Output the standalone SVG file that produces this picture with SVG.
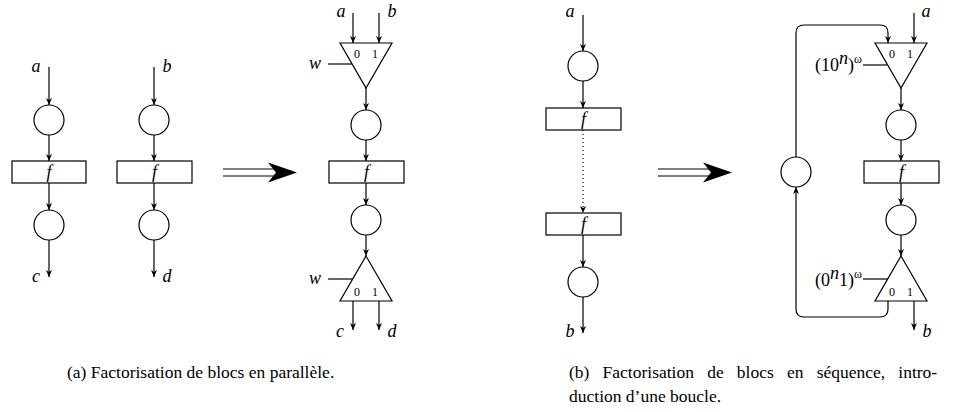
<svg xmlns="http://www.w3.org/2000/svg" width="967" height="412" viewBox="0 0 967 412">
<defs>
<marker id="ah" viewBox="-8 -4 9 8" refX="0" refY="0" markerWidth="9" markerHeight="8" orient="auto" markerUnits="userSpaceOnUse">
<path d="M0,0 L-7,-3 L-5,0 L-7,3 Z" fill="#000"/>
</marker>
<style>
.s{fill:none;stroke:#000;stroke-width:1.2}
.n{fill:#fff;stroke:#000;stroke-width:1.2}
.c{fill:none;stroke:#000;stroke-width:1.2;marker-end:url(#ah)}
.d{fill:none;stroke:#000;stroke-width:1.2;stroke-dasharray:1 3;marker-end:url(#ah)}
text{font-family:'Liberation Serif','Tinos','DejaVu Serif',serif;fill:#000}
.m{font-style:italic;font-size:18px}
.r{font-size:18px}
.t{font-size:12px}
.cap{font-size:17.5px}
.big{fill:#000}
</style>
</defs>

<g id="connectors">
<line class="c" x1="49" y1="67" x2="49" y2="105"/>
<line class="c" x1="49" y1="135" x2="49" y2="161"/>
<line class="c" x1="49" y1="183" x2="49" y2="210"/>
<line class="c" x1="49" y1="240" x2="49" y2="277"/>
<line class="c" x1="154" y1="67" x2="154" y2="105"/>
<line class="c" x1="154" y1="135" x2="154" y2="161"/>
<line class="c" x1="154" y1="183" x2="154" y2="210"/>
<line class="c" x1="154" y1="240" x2="154" y2="277"/>
<line class="c" x1="353" y1="13" x2="353" y2="43"/>
<line class="c" x1="379" y1="13" x2="379" y2="43"/>
<line class="s" x1="328" y1="64" x2="352" y2="64"/>
<line class="c" x1="366" y1="88" x2="366" y2="110"/>
<line class="c" x1="366" y1="140" x2="366" y2="161"/>
<line class="c" x1="366" y1="183" x2="366" y2="205"/>
<line class="c" x1="366" y1="235" x2="366" y2="256"/>
<line class="s" x1="328" y1="279" x2="353" y2="279"/>
<line class="c" x1="353" y1="301" x2="353" y2="330"/>
<line class="c" x1="379" y1="301" x2="379" y2="330"/>
<line class="c" x1="583" y1="15" x2="583" y2="51"/>
<line class="c" x1="583" y1="81" x2="583" y2="108"/>
<line class="d" x1="583" y1="130" x2="583" y2="213"/>
<line class="c" x1="583" y1="235" x2="583" y2="267"/>
<line class="c" x1="583" y1="297" x2="583" y2="333"/>
<line class="c" x1="914" y1="13" x2="914" y2="43"/>
<path class="c" d="M796,157 L796,33 Q796,25 804,25 L880,25 Q888,25 888,33 L888,43"/>
<line class="s" x1="863" y1="65" x2="887" y2="65"/>
<line class="c" x1="901" y1="88" x2="901" y2="110"/>
<line class="c" x1="901" y1="140" x2="901" y2="161"/>
<line class="c" x1="901" y1="183" x2="901" y2="205"/>
<line class="c" x1="901" y1="235" x2="901" y2="256"/>
<line class="s" x1="863" y1="279" x2="888" y2="279"/>
<path class="c" d="M888,301 L888,309 Q888,317 880,317 L804,317 Q796,317 796,309 L796,187"/>
<line class="c" x1="914" y1="301" x2="914" y2="330"/>
</g>

<g id="la"><text class="m" x="36" y="72" text-anchor="middle">a</text></g>
<g id="n_a1"><circle class="n" cx="49" cy="120" r="15"/></g>
<g id="f_a1"><rect class="n" x="12" y="161" width="74" height="22"/><text class="m" x="49" y="178" text-anchor="middle">f</text></g>
<g id="n_a2"><circle class="n" cx="49" cy="225" r="15"/></g>
<g id="lc"><text class="m" x="36" y="282" text-anchor="middle">c</text></g>

<g id="lb"><text class="m" x="167" y="72" text-anchor="middle">b</text></g>
<g id="n_b1"><circle class="n" cx="154" cy="120" r="15"/></g>
<g id="f_b1"><rect class="n" x="117" y="161" width="75" height="22"/><text class="m" x="154.5" y="178" text-anchor="middle">f</text></g>
<g id="n_b2"><circle class="n" cx="154" cy="225" r="15"/></g>
<g id="ld"><text class="m" x="167" y="282" text-anchor="middle">d</text></g>

<g id="arrow1">
<line class="s" x1="223" y1="169" x2="274" y2="169"/>
<line class="s" x1="223" y1="176" x2="274" y2="176"/>
<path class="big" d="M297,172.5 L268,162.5 L276,172.5 L268,182.5 Z"/>
</g>

<g id="la2"><text class="m" x="341" y="17" text-anchor="middle">a</text></g>
<g id="lb2"><text class="m" x="392" y="17" text-anchor="middle">b</text></g>
<g id="mux1"><path class="n" d="M340,43 L392,43 L366,88 Z"/><text class="t" x="357" y="58" text-anchor="middle">0</text><text class="t" x="375" y="58" text-anchor="middle">1</text></g>
<g id="lw1"><text class="m" x="315" y="69" text-anchor="middle">w</text></g>
<g id="n_m1"><circle class="n" cx="366" cy="125" r="15"/></g>
<g id="f_m"><rect class="n" x="329" y="161" width="75" height="22"/><text class="m" x="366.5" y="178" text-anchor="middle">f</text></g>
<g id="n_m2"><circle class="n" cx="366" cy="220" r="15"/></g>
<g id="demux1"><path class="n" d="M366,256 L392,301 L340,301 Z"/><text class="t" x="357" y="296" text-anchor="middle">0</text><text class="t" x="375" y="296" text-anchor="middle">1</text></g>
<g id="lw2"><text class="m" x="315" y="284" text-anchor="middle">w</text></g>
<g id="lc2"><text class="m" x="340" y="337" text-anchor="middle">c</text></g>
<g id="ld2"><text class="m" x="392" y="337" text-anchor="middle">d</text></g>

<g id="lba"><text class="m" x="570" y="17" text-anchor="middle">a</text></g>
<g id="n_s1"><circle class="n" cx="583" cy="66" r="15"/></g>
<g id="f_s1"><rect class="n" x="546" y="108" width="75" height="22"/><text class="m" x="583.5" y="125" text-anchor="middle">f</text></g>
<g id="f_s2"><rect class="n" x="546" y="213" width="75" height="22"/><text class="m" x="583.5" y="230" text-anchor="middle">f</text></g>
<g id="n_s2"><circle class="n" cx="583" cy="282" r="15"/></g>
<g id="lbb"><text class="m" x="570" y="337" text-anchor="middle">b</text></g>

<g id="arrow2">
<line class="s" x1="658" y1="169" x2="709" y2="169"/>
<line class="s" x1="658" y1="176" x2="709" y2="176"/>
<path class="big" d="M732,172.5 L703,162.5 L711,172.5 L703,182.5 Z"/>
</g>

<g id="n_loop"><circle class="n" cx="796" cy="172" r="15"/></g>
<g id="la3"><text class="m" x="926" y="17" text-anchor="middle">a</text></g>
<g id="mux2"><path class="n" d="M875,43 L927,43 L901,88 Z"/><text class="t" x="892" y="58" text-anchor="middle">0</text><text class="t" x="910" y="58" text-anchor="middle">1</text></g>
<g id="lsel1"><text class="r" x="862" y="71" text-anchor="end">(10<tspan class="m" font-size="12" dy="-7">n</tspan><tspan dy="7">)</tspan><tspan font-size="12" dy="-8">ω</tspan></text></g>
<g id="n_r1"><circle class="n" cx="901" cy="125" r="15"/></g>
<g id="f_r"><rect class="n" x="864" y="161" width="75" height="22"/><text class="m" x="901.5" y="178" text-anchor="middle">f</text></g>
<g id="n_r2"><circle class="n" cx="901" cy="220" r="15"/></g>
<g id="demux2"><path class="n" d="M901,256 L927,301 L875,301 Z"/><text class="t" x="892" y="296" text-anchor="middle">0</text><text class="t" x="910" y="296" text-anchor="middle">1</text></g>
<g id="lsel2"><text class="r" x="862" y="286" text-anchor="end">(0<tspan class="m" font-size="12" dy="-7">n</tspan><tspan dy="7">1)</tspan><tspan font-size="12" dy="-8">ω</tspan></text></g>
<g id="lbc"><text class="m" x="927" y="337" text-anchor="middle">b</text></g>

<g id="captions">
<text class="cap" x="67" y="378">(a) Factorisation de blocs en parallèle.</text>
<text class="cap" x="569" y="378" word-spacing="8.8">(b) Factorisation de blocs en séquence, intro-</text>
<text class="cap" x="569" y="402">duction d’une boucle.</text>
</g>
</svg>
